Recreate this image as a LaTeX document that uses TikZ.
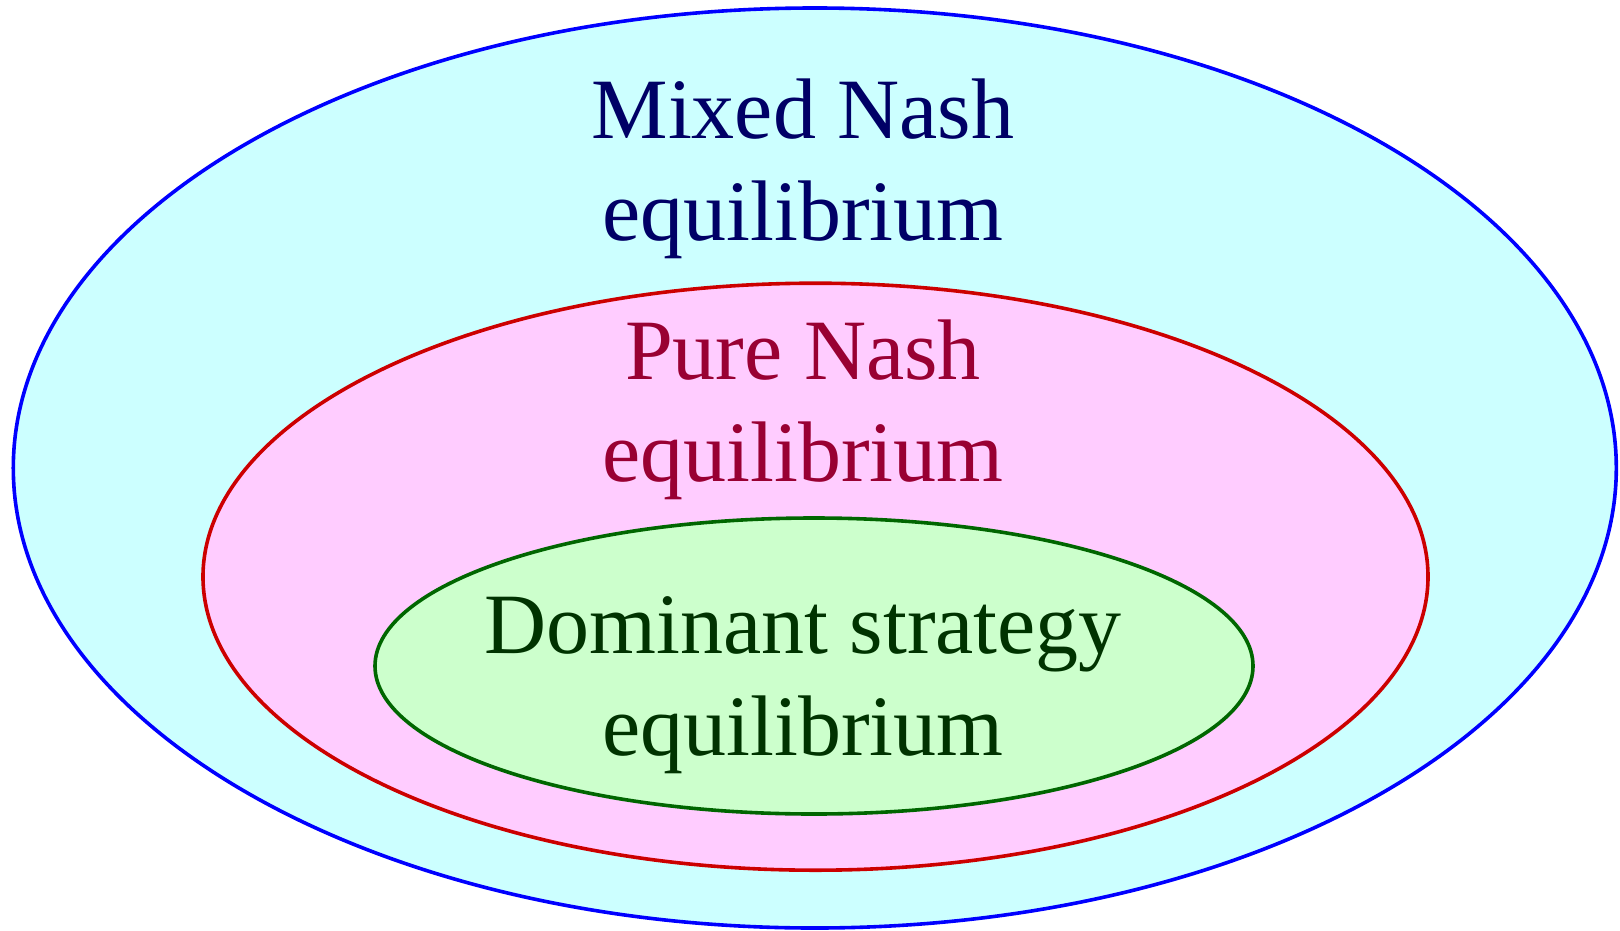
\documentclass[tikz,border=0pt]{standalone}
\usepackage{fontspec}
\setmainfont{Liberation Serif}
\usetikzlibrary{shapes.geometric}
\definecolor{mixfill}{HTML}{CCFFFF}
\definecolor{mixline}{HTML}{0000FF}
\definecolor{mixtext}{HTML}{000066}
\definecolor{purefill}{HTML}{FFCCFF}
\definecolor{pureline}{HTML}{CC0000}
\definecolor{puretext}{HTML}{990033}
\definecolor{domfill}{HTML}{CCFFCC}
\definecolor{domline}{HTML}{006600}
\definecolor{domtext}{HTML}{003300}
\tikzset{
  setshape/.style={ellipse, line width=3.6bp, inner sep=0pt, outer sep=0pt},
  % the base anchor sits on the baseline of the second line
  setlabel/.style={align=center, anchor=base, inner sep=0pt,
    font=\fontsize{86bp}{102bp}\selectfont},
}
\begin{document}
\begin{tikzpicture}[x=1bp, y=-1bp]
  \useasboundingbox (0,0) rectangle (1620,930);
  % nested sets of equilibria
  \node[setshape, draw=mixline, fill=mixfill,
        minimum width=1603bp, minimum height=920bp] (mixed) at (814.8,468) {};
  \node[setshape, draw=pureline, fill=purefill,
        minimum width=1225bp, minimum height=587bp] (pure) at (815.5,576.7) {};
  \node[setshape, draw=domline, fill=domfill,
        minimum width=878bp, minimum height=296bp] (dominant) at (814,666) {};
  % labels
  \node[setlabel, text=mixtext] (mixedlabel) at (803,240) {Mixed Nash\\equilibrium};
  \node[setlabel, text=puretext] (purelabel) at (803,481.7) {Pure Nash\\equilibrium};
  \node[setlabel, text=domtext] (domlabel) at (803,755) {Dominant strategy\\equilibrium};
\end{tikzpicture}
\end{document}
